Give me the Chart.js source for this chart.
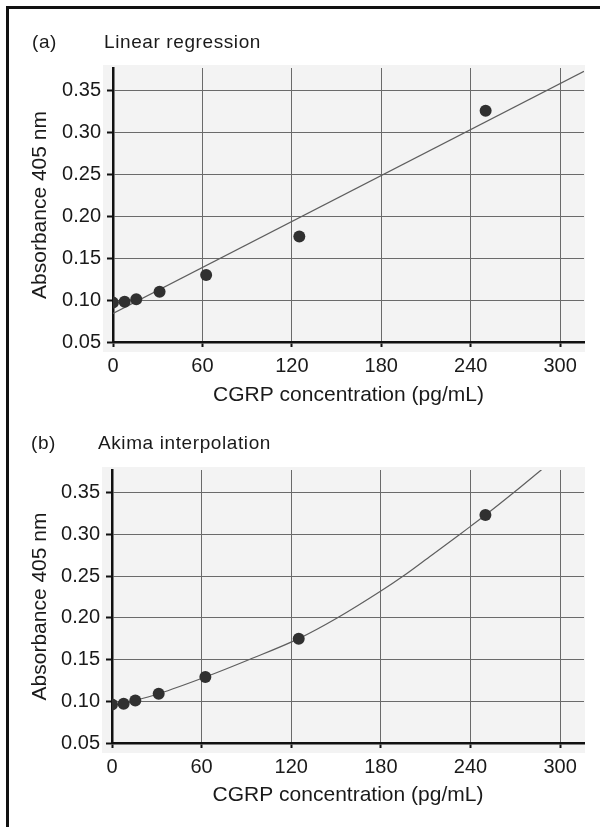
<!DOCTYPE html>
<html>
<head>
<meta charset="utf-8">
<script src="https://cdn.jsdelivr.net/npm/chart.js@4/dist/chart.umd.min.js"></script>
<style>
  body { margin: 0; background: #fff; }
  #fig { position: relative; width: 600px; height: 827px; overflow: hidden; }
  #frame { position: absolute; left: 6px; top: 6px; right: 0; bottom: 0;
    border-left: 3px solid #111; border-top: 3px solid #111; }
  canvas { position: absolute; left: 0; }
  .lbl { position: absolute; font: 19px "Liberation Sans", Arial, sans-serif;
    line-height: 20px; color: #1a1a1a; letter-spacing: 0.6px; white-space: nowrap; }
</style>
</head>
<body>
<div id="fig">
  <div id="frame"></div>
  <canvas id="chartA" width="600" height="415" style="top:0"></canvas>
  <canvas id="chartB" width="600" height="412" style="top:415px"></canvas>
  <div class="lbl" style="left:32px; top:32px">(a)</div>
  <div class="lbl" style="left:104px; top:32px">Linear regression</div>
  <div class="lbl" style="left:31px; top:433px">(b)</div>
  <div class="lbl" style="left:98px; top:433px">Akima interpolation</div>
</div>

<script>
  // standards, pg/mL (two-fold dilutions)
  const concentration = [0, 7.8, 15.6, 31.25, 62.5, 125, 250];
  // absorbance
  const absorbanceA = [0.097, 0.098, 0.101, 0.110, 0.130, 0.176, 0.326];
  const absorbanceB = [0.096, 0.097, 0.101, 0.109, 0.129, 0.175, 0.323];

  // fitted line, panel (a): two ends as drawn
  const regressionX = [0, 316];
  const regressionY = [0.084, 0.373];

  // akima curve, panel (b): points
  const akimaX = [0, 7.8, 15.6, 31.25, 62.5, 92, 125, 151, 180, 195, 214, 233, 240, 250, 269, 288];
  const akimaY = [0.096, 0.097, 0.101, 0.109, 0.129, 0.150, 0.175, 0.200, 0.232, 0.250, 0.275, 0.300, 0.3095, 0.323, 0.350, 0.378];

  const xTicks = [0, 60, 120, 180, 240, 300];
  const yTicks = [0.05, 0.10, 0.15, 0.20, 0.25, 0.30, 0.35];
  const xRange = [0, 316];
  const yRange = [0.05, 0.377];

  const FONT = '"Liberation Sans", Arial, sans-serif';

  const toXY = (xs, ys) => xs.map((x, i) => ({ x: x, y: ys[i] }));

  // light grey plot panel behind the grid, a bit wider than the axes
  const plotBg = {
    id: 'plotBg',
    beforeDraw(chart) {
      const a = chart.chartArea, ctx = chart.ctx;
      ctx.save();
      ctx.fillStyle = '#f3f3f3';
      ctx.fillRect(a.left - 10, a.top - 3, a.right - a.left + 11, a.bottom - a.top + 13);
      ctx.restore();
    }
  };

  const makeChart = function (id, pts, lineXs, lineYs, smooth, cfg) {
    return new Chart(document.getElementById(id), {
      type: 'scatter',
      data: {
        datasets: [
          {
            data: toXY(concentration, pts),
            pointRadius: 6,
            pointBackgroundColor: '#303030',
            pointBorderWidth: 0,
            order: 0
          },
          {
            data: toXY(lineXs, lineYs),
            showLine: true,
            pointRadius: 0,
            borderColor: '#5e5e5e',
            borderWidth: 1.2,
            cubicInterpolationMode: smooth ? 'monotone' : 'default',
            order: 1
          }
        ]
      },
      options: {
        responsive: false,
        animation: false,
        devicePixelRatio: 1,
        layout: { padding: { top: cfg.top, right: 16, left: 0, bottom: 0 } },
        plugins: { legend: { display: false }, tooltip: { enabled: false } },
        scales: {
          x: {
            min: xRange[0], max: xRange[1],
            afterBuildTicks: (s) => { s.ticks = xTicks.map(v => ({ value: v })); },
            afterFit: (s) => { s.height = cfg.xHeight; },
            grid: { color: '#6a6a6a', lineWidth: 1, tickLength: 5, tickColor: '#111', tickWidth: 2 },
            border: { color: '#111', width: 2.5 },
            ticks: { color: '#1a1a1a', padding: 7, maxRotation: 0, font: { family: FONT, size: 20 } },
            title: {
              display: true, text: 'CGRP concentration (pg/mL)', color: '#1a1a1a',
              font: { family: FONT, size: 21 }, padding: { top: 0, bottom: cfg.xTitlePad }
            }
          },
          y: {
            min: yRange[0], max: yRange[1],
            afterBuildTicks: (s) => { s.ticks = yTicks.map(v => ({ value: v })); },
            afterFit: (s) => { s.width = cfg.left; },
            grid: { color: '#6a6a6a', lineWidth: 1, tickLength: 6, tickColor: '#111', tickWidth: 2 },
            border: { color: '#111', width: 2.5 },
            ticks: {
              color: '#1a1a1a', padding: 6, font: { family: FONT, size: 20 },
              callback: (v) => v.toFixed(2)
            },
            title: {
              display: true, text: 'Absorbance 405 nm', color: '#1a1a1a',
              font: { family: FONT, size: 21 }, padding: { top: 28, bottom: 0 }
            }
          }
        }
      },
      plugins: [plotBg]
    });
  };

  makeChart('chartA', absorbanceA, regressionX, regressionY, false,
    { top: 68, xHeight: 73, xTitlePad: 7, left: 113 });
  makeChart('chartB', absorbanceB, akimaX, akimaY, true,
    { top: 55, xHeight: 84, xTitlePad: 19, left: 112 });
</script>
</body>
</html>
